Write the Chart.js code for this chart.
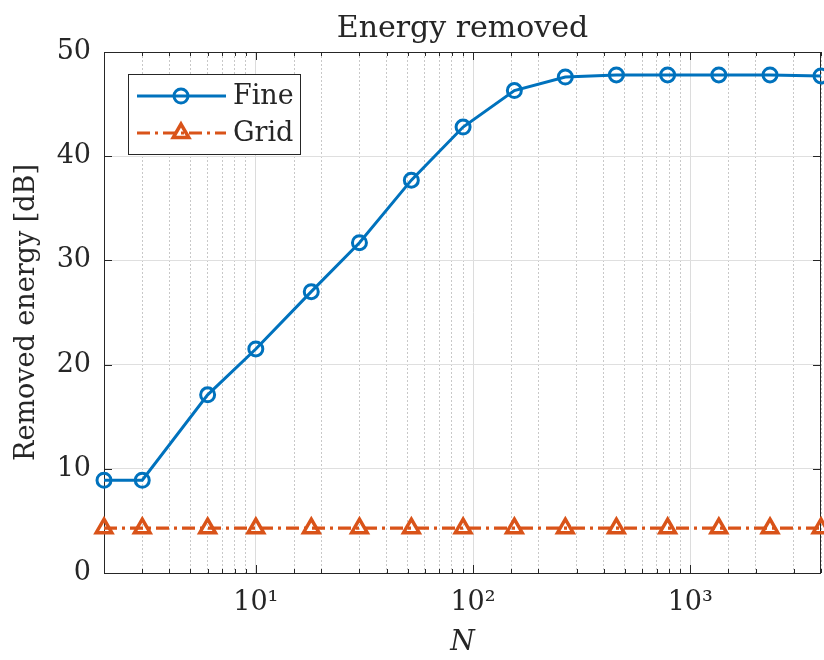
<!DOCTYPE html>
<html>
<head>
<meta charset="utf-8">
<script src="https://cdn.jsdelivr.net/npm/chart.js@4.4.1/dist/chart.umd.min.js"></script>
<style>
  html, body { margin: 0; padding: 0; background: #fff; }
</style>
</head>
<body>
<canvas id="myChart" width="824" height="660"></canvas>
<script>
// data
const nValues = [2, 3, 6, 10, 18, 30, 52, 90, 155, 266, 457, 787, 1354, 2330, 4000];
const fineEnergy = [8.9, 8.9, 17.1, 21.5, 27.0, 31.7, 37.7, 42.8, 46.3, 47.6, 47.8, 47.8, 47.8, 47.8, 47.7];
const gridEnergy = [4.3, 4.3, 4.3, 4.3, 4.3, 4.3, 4.3, 4.3, 4.3, 4.3, 4.3, 4.3, 4.3, 4.3, 4.3];
const seriesNames = ['Fine', 'Grid'];
const yTicks = [0, 10, 20, 30, 40, 50];
const decadeLabels = { 1: '10\u00B9', 2: '10\u00B2', 3: '10\u00B3' };
const chartTitle = 'Energy removed';
const xTitle = 'N';
const yTitle = 'Removed energy [dB]';

const serif = "'DejaVu Serif', 'Liberation Serif', serif";
const textColor = '#262626';
const blue = '#0072BD';
const orange = '#D95319';

const isDecade = (v) => {
  const e = Math.log10(v);
  return Math.abs(e - Math.round(e)) < 1e-9;
};

// title, axes box, inner ticks and legend (MATLAB look)
const matlabLook = {
  id: 'matlabLook',
  beforeDatasetsDraw(chart) {
    const { ctx, chartArea: a, scales } = chart;
    ctx.save();
    ctx.strokeStyle = textColor;
    ctx.lineWidth = 1;
    ctx.beginPath();
    yTicks.forEach(v => {
      const y = Math.round(scales.y.getPixelForValue(v)) + 0.5;
      ctx.moveTo(a.left, y); ctx.lineTo(a.left + 8, y);
      ctx.moveTo(a.right, y); ctx.lineTo(a.right - 8, y);
    });
    scales.x.ticks.forEach(t => {
      const x = Math.round(scales.x.getPixelForValue(t.value)) + 0.5;
      const len = isDecade(t.value) ? 8 : 4;
      ctx.moveTo(x, a.bottom); ctx.lineTo(x, a.bottom - len);
      ctx.moveTo(x, a.top); ctx.lineTo(x, a.top + len);
    });
    ctx.stroke();
    ctx.strokeRect(Math.round(a.left) + 0.5, Math.round(a.top) + 0.5,
      Math.round(a.right - a.left) - 1, Math.round(a.bottom - a.top));
    ctx.restore();
  },
  afterDraw(chart) {
    const { ctx, chartArea: a } = chart;
    ctx.save();
    // title
    ctx.fillStyle = textColor;
    ctx.font = '30px ' + serif;
    ctx.textAlign = 'center';
    ctx.textBaseline = 'alphabetic';
    ctx.fillText(chartTitle, (a.left + a.right) / 2, 37);

    // legend box
    const bx = 128.5, by = 74.5, bw = 172, bh = 80;
    ctx.fillStyle = '#fff';
    ctx.fillRect(bx, by, bw, bh);
    ctx.strokeStyle = textColor;
    ctx.lineWidth = 1;
    ctx.strokeRect(bx, by, bw, bh);
    const rows = [96, 133];
    chart.data.datasets.forEach((ds, i) => {
      const y = rows[i];
      ctx.save();
      ctx.strokeStyle = ds.borderColor;
      ctx.lineWidth = ds.borderWidth;
      ctx.setLineDash(ds.borderDash || []);
      ctx.beginPath();
      ctx.moveTo(137, y); ctx.lineTo(226, y);
      ctx.stroke();
      ctx.setLineDash([]);
      ctx.lineWidth = ds.pointBorderWidth;
      ctx.fillStyle = 'rgba(0,0,0,0)';
      Chart.helpers.drawPoint(ctx, {
        pointStyle: ds.pointStyle, radius: ds.pointRadius, rotation: 0,
        borderWidth: ds.pointBorderWidth
      }, 181, y);
      ctx.restore();
      ctx.fillStyle = textColor;
      ctx.font = '27px ' + serif;
      ctx.textAlign = 'left';
      ctx.textBaseline = 'middle';
      ctx.fillText(ds.label, 233, y + 1);
    });
    ctx.restore();
  }
};

const myChartRef = document.getElementById('myChart').getContext('2d');
new Chart(myChartRef, {
  type: 'line',
  data: {
    datasets: [
      {
        label: seriesNames[0],
        data: nValues.map((n, i) => ({ x: n, y: fineEnergy[i] })),
        borderColor: blue,
        borderWidth: 3,
        backgroundColor: 'rgba(0,0,0,0)',
        pointStyle: 'circle',
        pointRadius: 7,
        pointBorderWidth: 3,
        pointBorderColor: blue,
        pointBackgroundColor: 'rgba(0,0,0,0)',
        tension: 0,
        clip: false
      },
      {
        label: seriesNames[1],
        data: nValues.map((n, i) => ({ x: n, y: gridEnergy[i] })),
        borderColor: orange,
        borderWidth: 3.2,
        borderDash: [13, 5, 3, 5],
        backgroundColor: 'rgba(0,0,0,0)',
        pointStyle: 'triangle',
        pointRadius: 9,
        pointBorderWidth: 3.5,
        pointBorderColor: orange,
        pointBackgroundColor: 'rgba(0,0,0,0)',
        tension: 0,
        clip: false
      }
    ]
  },
  options: {
    responsive: false,
    animation: false,
    devicePixelRatio: 1,
    layout: { autoPadding: false, padding: { top: 52, right: 3, bottom: 0, left: 0 } },
    plugins: {
      legend: { display: false },
      tooltip: { enabled: false }
    },
    scales: {
      x: {
        type: 'logarithmic',
        min: 2,
        max: 4000,
        afterFit: (scale) => {
          scale.height = 87;
          scale.paddingLeft = 0;
          scale.paddingRight = 0;
        },
        grid: {
          drawTicks: false,
          color: (c) => (c.tick && isDecade(c.tick.value)) ? '#dcdcdc' : '#c8c8c8',
          lineWidth: 1
        },
        border: {
          display: false,
          dash: (c) => (c.tick && isDecade(c.tick.value)) ? [] : [2, 2]
        },
        ticks: {
          autoSkip: false,
          maxRotation: 0,
          padding: 14,
          color: textColor,
          font: { family: serif, size: 27 },
          callback: (v) => isDecade(v) ? (decadeLabels[Math.round(Math.log10(v))] || '') : ''
        },
        title: {
          display: true,
          text: xTitle,
          color: textColor,
          font: { family: serif, size: 28, style: 'italic' },
          padding: { top: 0, bottom: 0 }
        }
      },
      y: {
        min: 0,
        max: 50,
        afterFit: (scale) => { scale.width = 104; },
        afterBuildTicks: (scale) => { scale.ticks = yTicks.map(v => ({ value: v })); },
        grid: { drawTicks: false, color: '#dfdfdf', lineWidth: 1 },
        border: { display: false },
        ticks: {
          padding: 13,
          color: textColor,
          font: { family: serif, size: 27 }
        },
        title: {
          display: true,
          text: yTitle,
          color: textColor,
          font: { family: serif, size: 27 },
          padding: { top: 11, bottom: 0 }
        }
      }
    }
  },
  plugins: [matlabLook]
});
</script>
</body>
</html>
